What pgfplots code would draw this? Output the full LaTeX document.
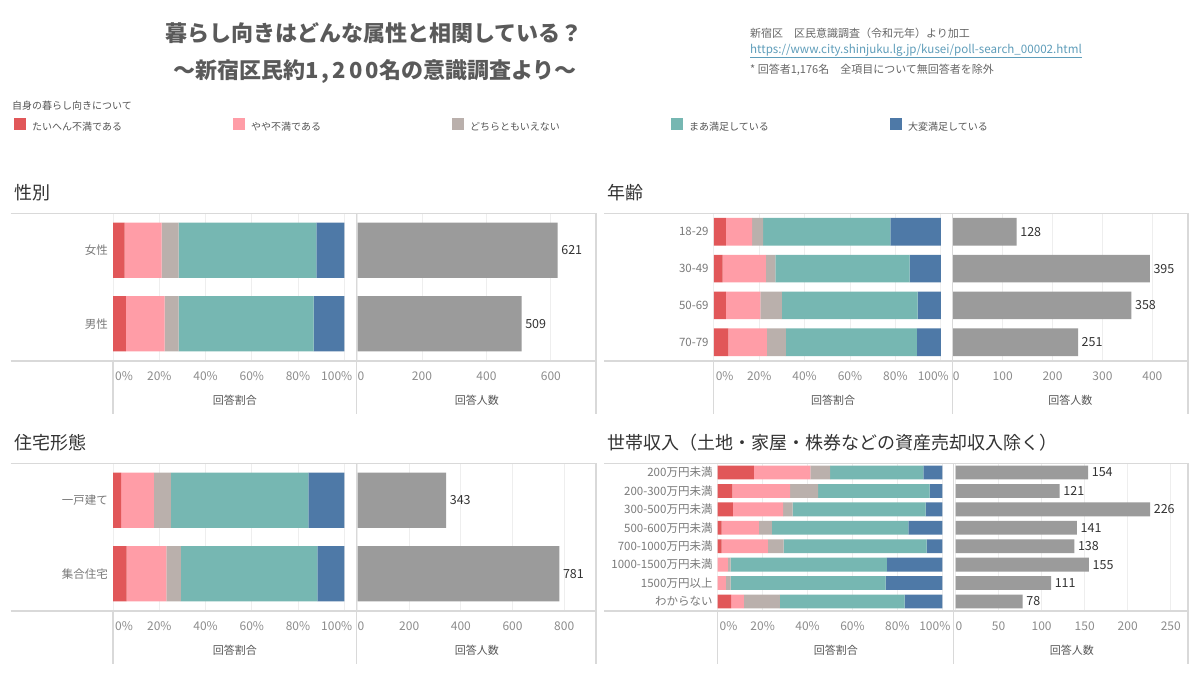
\documentclass[border=0pt]{standalone}
\usepackage{pgfplots}
\pgfplotsset{compat=1.18}
\usepackage{pgfplotstable}
\usepackage{fontspec}
\setmainfont{Noto Sans CJK JP}
\definecolor{cR}{HTML}{E15759}
\definecolor{cP}{HTML}{FF9DA7}
\definecolor{cG}{HTML}{BAB0AC}
\definecolor{cT}{HTML}{76B7B2}
\definecolor{cB}{HTML}{4E79A7}
\definecolor{cN}{HTML}{9B9B9B}
\definecolor{framec}{HTML}{D9D9D9}
\definecolor{gridc}{HTML}{EEEEEE}
\definecolor{tickc}{HTML}{8C8C8C}
\definecolor{catc}{HTML}{7A7A7A}
\definecolor{axc}{HTML}{555555}
\definecolor{numc}{HTML}{333333}
\definecolor{titlec}{HTML}{5A5A5A}
\definecolor{ptitlec}{HTML}{333333}
\definecolor{srcc}{HTML}{666666}
\definecolor{urlc}{HTML}{5E9DBA}
\definecolor{legc}{HTML}{555555}
\newcommand{\fs}[1]{\fontsize{#1}{#1}\selectfont}

\pgfplotstableread{
idx r p g t b n
1 5.0 16.0 7.3 59.6 12.1 621
0 5.5 16.8 6.0 58.4 13.3 509
}\gender
\pgfplotstableread{
idx r p g t b n
3 5.3 11.6 4.8 56.1 22.2 128
2 3.9 19.0 4.2 59.2 13.7 395
1 5.3 15.2 9.5 59.8 10.2 358
0 6.4 17.0 8.3 57.8 10.5 251
}\age
\pgfplotstableread{
idx r p g t b n
1 3.5 14.1 7.4 59.5 15.5 343
0 5.8 17.2 6.3 59.1 11.6 781
}\house
\pgfplotstableread{
idx r p g t b n
7 16.1 25.2 8.7 41.6 8.4 154
6 6.5 25.7 12.5 49.6 5.7 121
5 6.8 22.3 4.3 59.2 7.4 226
4 1.7 16.6 5.8 60.8 15.1 141
3 1.7 20.6 7.0 63.7 7.0 138
2 0 4.5 1.2 69.6 24.7 155
1 0 3.6 2.2 69.0 25.2 111
0 6.0 5.6 16.1 55.5 16.8 78
}\income

\pgfplotsset{
  base/.style={
    scale only axis, anchor=south west, height=147.4pt, clip=false,
    axis line style={draw=none}, major tick length=0pt, tick style={draw=none},
    xmajorgrids, grid style={gridc, line width=0.9pt},
    /pgf/number format/assume math mode=true,
    xticklabel style={font=\fs{12}, text=tickc, anchor=center, yshift=-15.5pt, inner sep=0pt},
    yticklabel style={font=\fs{11.5}, text=catc, anchor=east, inner sep=0pt, xshift=-5pt},
    xlabel style={font=\fs{11}, text=axc, at={(axis description cs:0.5,0)}, anchor=center, yshift=-39.5pt},
  },
  pct/.style={base, xbar stacked, bar width=0.75, xmin=0,
    xtick={0,20,...,100},
    xticklabels={{\makebox[0pt][l]{\kern2pt 0\%}},20\%,40\%,60\%,80\%,{\makebox[0pt][r]{100\%\kern-8pt}}},
    xlabel={回答割合}},
  cnt/.style={base, xbar, bar width=0.75, xmin=0, ytick=\empty, xlabel={回答人数},
    nodes near coords, point meta=x,
    nodes near coords style={font=\fs{12.5}, text=numc, anchor=west, inner sep=0pt, xshift=3.5pt}},
}
\newcommand{\pctplots}[1]{%
  \addplot[fill=cR,draw=none] table[x=r,y=idx]{#1};
  \addplot[fill=cP,draw=none] table[x=p,y=idx]{#1};
  \addplot[fill=cG,draw=none] table[x=g,y=idx]{#1};
  \addplot[fill=cT,draw=none] table[x=t,y=idx]{#1};
  \addplot[fill=cB,draw=none] table[x=b,y=idx]{#1};
}
\newcommand{\cntplot}[1]{%
  \addplot[fill=cN,draw=none] table[x=n,y=idx]{#1};
}

\begin{document}
\begin{tikzpicture}[x=1pt,y=1pt]
\useasboundingbox (0,0) rectangle (1200,675);
\fill[white] (0,0) rectangle (1200,675);

% titles
\node[font=\fs{22}\bfseries, text=titlec] at (374,642) {暮らし向きはどんな属性と相関している？};
\node[font=\fs{22}\bfseries, text=titlec] at (375,603) {～新宿区民約{\addfontfeature{LetterSpace=14}1,200}名の意識調査より～};
\node[font=\fs{11}, text=srcc, anchor=west, inner sep=0pt] at (750,642) {新宿区　区民意識調査（令和元年）より加工};
\node[font=\fs{11.6}, text=urlc, anchor=west, inner sep=0pt] at (750,624) {\underline{https://www.city.shinjuku.lg.jp/kusei/poll-search\_00002.html}};
\node[font=\fs{11}, text=srcc, anchor=west, inner sep=0pt] at (750,605) {* 回答者1,176名　全項目について無回答者を除外};
\node[font=\fs{10}, text=legc, anchor=west, inner sep=0pt] at (12,569) {自身の暮らし向きについて};

% panel titles
\node[font=\fs{18}, text=ptitlec, anchor=west, inner sep=0pt] at (14,482.5) {性別};
\node[font=\fs{18}, text=ptitlec, anchor=west, inner sep=0pt] at (607,482.5) {年齢};
\node[font=\fs{18}, text=ptitlec, anchor=west, inner sep=0pt] at (14,232.5) {住宅形態};
\node[font=\fs{18}, text=ptitlec, anchor=west, inner sep=0pt] at (607,232.5) {世帯収入（土地・家屋・株券などの資産売却収入除く）};

% ---- Panel A: gender
\begin{axis}[pct, at={(113.1pt,314.3pt)}, width=243.4pt, xmax=105.3, ymin=-0.5, ymax=1.5,
  ytick={0,1}, yticklabels={男性,女性},
  legend columns=5,
  legend style={at={(axis description cs:-0.4072,1.599)}, anchor=west, draw=none, fill=none,
    inner sep=0pt, font=\fs{10}, text=legc, nodes={inner sep=0pt}}]
  \addplot[fill=cR,draw=none,legend image code/.code={\fill[cR] (0pt,-2pt) rectangle (12pt,10pt);}] table[x=r,y=idx]{\gender};
  \addlegendentry{\makebox[207pt][l]{\kern6pt たいへん不満である}}
  \addplot[fill=cP,draw=none,legend image code/.code={\fill[cP] (0pt,-2pt) rectangle (12pt,10pt);}] table[x=p,y=idx]{\gender};
  \addlegendentry{\makebox[207pt][l]{\kern6pt やや不満である}}
  \addplot[fill=cG,draw=none,legend image code/.code={\fill[cG] (0pt,-2pt) rectangle (12pt,10pt);}] table[x=g,y=idx]{\gender};
  \addlegendentry{\makebox[207pt][l]{\kern6pt どちらともいえない}}
  \addplot[fill=cT,draw=none,legend image code/.code={\fill[cT] (0pt,-2pt) rectangle (12pt,10pt);}] table[x=t,y=idx]{\gender};
  \addlegendentry{\makebox[207pt][l]{\kern6pt まあ満足している}}
  \addplot[fill=cB,draw=none,legend image code/.code={\fill[cB] (0pt,-2pt) rectangle (12pt,10pt);}] table[x=b,y=idx]{\gender};
  \addlegendentry{\kern6pt 大変満足している}
\end{axis}
\begin{axis}[cnt, at={(357.5pt,314.3pt)}, width=238.5pt, xmax=740, ymin=-0.5, ymax=1.5,
  xtick={0,200,400,600}, xticklabels={{\makebox[0pt][l]{0}},200,400,600}]
  \cntplot{\gender}
\end{axis}

% ---- Panel B: age
\begin{axis}[pct, at={(713.8pt,314.3pt)}, width=238.5pt, xmax=105.07, ymin=-0.5, ymax=3.5,
  ytick={0,...,3}, yticklabels={70-79,50-69,30-49,18-29}]
  \pctplots{\age}
\end{axis}
\begin{axis}[cnt, at={(952.8pt,314.3pt)}, width=235.2pt, xmax=471.5, ymin=-0.5, ymax=3.5,
  xtick={0,100,...,400}, xticklabels={{\makebox[0pt][l]{0}},100,200,300,400}]
  \cntplot{\age}
\end{axis}

% ---- Panel C: housing
\begin{axis}[pct, at={(113.1pt,64.3pt)}, width=243.4pt, xmax=105.3, ymin=-0.5, ymax=1.5,
  ytick={0,1}, yticklabels={集合住宅,一戸建て}]
  \pctplots{\house}
\end{axis}
\begin{axis}[cnt, at={(357.5pt,64.3pt)}, width=238.5pt, xmax=923, ymin=-0.5, ymax=1.5,
  xtick={0,200,...,800}, xticklabels={{\makebox[0pt][l]{0}},200,400,600,800}]
  \cntplot{\house}
\end{axis}

% ---- Panel D: income
\begin{axis}[pct, at={(717.7pt,64.3pt)}, width=236.1pt, xmax=105.1, ymin=-0.5, ymax=7.5,
  ytick={0,...,7}, yticklabels={わからない,1500万円以上,1000-1500万円未満,700-1000万円未満,500-600万円未満,300-500万円未満,200-300万円未満,200万円未満}]
  \pctplots{\income}
\end{axis}
\begin{axis}[cnt, at={(955.5pt,64.3pt)}, width=232.5pt, xmax=270, ymin=-0.5, ymax=7.5,
  xtick={0,50,...,250}, xticklabels={{\makebox[0pt][l]{0}},50,100,150,200,250}]
  \cntplot{\income}
\end{axis}

% frame lines
\begin{scope}[draw=framec, line width=1.3pt]
  \draw (10.7,461.7) -- (596,461.7);
  \draw[line width=1.8pt] (10.7,314.3) -- (596,314.3);
  \draw (596,461.7) -- (596,261);
  \draw (356.5,461.7) -- (356.5,261);
  \draw (113.1,314.3) -- (113.1,261);
  \draw (604,461.7) -- (1188,461.7);
  \draw[line width=1.8pt] (604,314.3) -- (1188,314.3);
  \draw (1188,461.7) -- (1188,261);
  \draw (952.3,461.7) -- (952.3,261);
  \draw (713.8,314.3) -- (713.8,261);
  \draw (10.7,211.7) -- (596,211.7);
  \draw[line width=1.8pt] (10.7,64.3) -- (596,64.3);
  \draw (596,211.7) -- (596,11);
  \draw (356.5,211.7) -- (356.5,11);
  \draw (113.1,64.3) -- (113.1,11);
  \draw (604,211.7) -- (1188,211.7);
  \draw[line width=1.8pt] (604,64.3) -- (1188,64.3);
  \draw (1188,211.7) -- (1188,11);
  \draw (953.8,211.7) -- (953.8,11);
  \draw (717.7,64.3) -- (717.7,11);
\end{scope}
\end{tikzpicture}
\end{document}
